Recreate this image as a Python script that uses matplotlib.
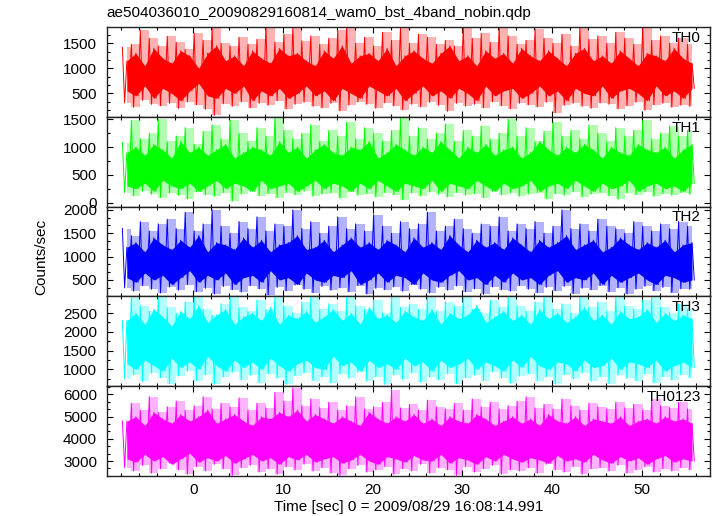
import matplotlib
matplotlib.use('Agg')
import matplotlib.pyplot as plt
import numpy as np
from matplotlib.ticker import MultipleLocator

plt.rcParams['font.family'] = 'Liberation Sans'
plt.rcParams['font.size'] = 11

title = 'ae504036010_20090829160814_wam0_bst_4band_nobin.qdp'
names = ['TH0', 'TH1', 'TH2', 'TH3', 'TH0123']
colors = ['#ff0000', '#00ff00', '#0000ff', '#00ffff', '#ff00ff']

# time grid of the light curve (one set of samples per 1 s bin)
t_start = -7.9
t_bin = 1.0

# per bin: outer spike high / low, inner (dense) high / low
th0_hi = [1420, 1480, 1760, 1600, 1450, 1640, 1520, 1380, 1700, 1560, 1830, 1500, 1450, 1620, 1480, 1580,
          1830, 1520, 1680, 1830, 1550, 1650, 1480, 1600, 1760, 1830, 1500, 1620, 1450, 1720, 1560, 1830,
          1500, 1680, 1620, 1480, 1560, 1450, 1830, 1600, 1700, 1520, 1830, 1650, 1480, 1560, 1780, 1600,
          1500, 1680, 1450, 1830, 1580, 1650, 1500, 1720, 1600, 1480, 1830, 1560, 1650, 1500, 1600, 1480]
th0_lo = [310, 220, 360, 280, 250, 300, 200, 330, 270, 180, 60, 290, 240, 330, 210, 300,
          260, 350, 190, 280, 320, 240, 210, 300, 150, 260, 330, 280, 200, 310, 250, 170,
          280, 230, 320, 260, 140, 300, 240, 280, 210, 330, 250, 190, 300, 270, 230, 320,
          110, 260, 300, 240, 200, 310, 280, 190, 250, 320, 160, 270, 300, 220, 260, 240]
th0_mh = [1150, 1300, 1050, 1400, 1200, 1100, 1350, 1250, 1000, 1300, 1450, 1150, 1250, 1050, 1350, 1200,
          1100, 1400, 1250, 1300, 1150, 1050, 1350, 1200, 1450, 1100, 1250, 1300, 1150, 1400, 1050, 1250,
          1350, 1200, 1100, 1300, 1450, 1150, 1250, 1050, 1350, 1200, 1300, 1100, 1400, 1250, 1150, 1350,
          1200, 1050, 1300, 1400, 1150, 1250, 1100, 1350, 1200, 1050, 1300, 1250, 1150, 1400, 1200, 1100]
th0_ml = [550, 450, 650, 400, 600, 500, 350, 550, 700, 450, 400, 600, 500, 650, 350, 550,
          450, 600, 400, 500, 650, 450, 550, 350, 600, 500, 400, 650, 550, 450, 600, 350,
          500, 650, 450, 550, 400, 600, 500, 350, 650, 450, 550, 600, 400, 500, 650, 450,
          550, 350, 600, 500, 450, 650, 400, 550, 600, 500, 350, 650, 450, 550, 400, 600]

th1_hi = [1080, 1480, 1150, 1250, 1500, 1100, 1200, 1350, 1050, 1280, 1400, 1150, 1480, 1250, 1100, 1350,
          1200, 1550, 1300, 1150, 1250, 1400, 1100, 1300, 1200, 1450, 1150, 1350, 1250, 1100, 1300, 1550,
          1200, 1350, 1150, 1250, 1420, 1100, 1300, 1200, 1380, 1150, 1250, 1500, 1200, 1350, 1100, 1280,
          1450, 1200, 1300, 1150, 1400, 1250, 1100, 1350, 1200, 1300, 1480, 1150, 1250, 1380, 1200, 1300]
th1_lo = [180, 120, 200, 150, 90, 170, 130, 60, 190, 140, 110, 180, 20, 150, 200, 120,
          160, 90, 180, 140, 200, 110, 150, 170, 80, 190, 130, 160, 100, 180, 140, 50,
          170, 120, 190, 150, 100, 180, 130, 160, 90, 200, 140, 170, 110, 150, 180, 70,
          160, 130, 190, 100, 150, 180, 120, 60, 170, 140, 190, 110, 160, 130, 180, 150]
th1_mh = [900, 1000, 850, 1050, 950, 800, 1100, 900, 1000, 850, 950, 1050, 800, 900, 1000, 950,
          850, 1100, 900, 1000, 800, 950, 1050, 900, 850, 1000, 950, 1100, 800, 900, 1050, 950,
          850, 1000, 900, 1100, 950, 800, 1000, 900, 1050, 850, 950, 1000, 800, 900, 1100, 950,
          850, 1000, 900, 1050, 950, 800, 1000, 900, 850, 1050, 950, 900, 1000, 800, 950, 1050]
th1_ml = [300, 250, 350, 200, 400, 300, 250, 350, 200, 300, 400, 250, 350, 300, 200, 400,
          250, 300, 350, 200, 300, 400, 250, 350, 300, 200, 350, 250, 400, 300, 200, 350,
          300, 250, 400, 200, 350, 300, 250, 400, 300, 200, 350, 250, 300, 400, 200, 300,
          350, 250, 400, 300, 200, 350, 250, 300, 400, 200, 300, 350, 250, 300, 200, 350]

th2_hi = [1600, 1450, 1750, 1550, 1700, 1800, 1600, 1950, 1550, 1700, 2000, 1650, 1500, 1750, 1600, 1850,
          1550, 1700, 1650, 2000, 1600, 1750, 1500, 1650, 1850, 1600, 1700, 1550, 1900, 1650, 1500, 1750,
          1600, 1700, 1950, 1550, 1650, 1800, 1600, 1500, 1700, 1650, 1850, 1550, 1700, 1600, 1750, 1500,
          1650, 2000, 1600, 1700, 1550, 1800, 1650, 1600, 1500, 1750, 1650, 1550, 1700, 1600, 1750, 1650]
th2_lo = [330, 260, 380, 300, 220, 350, 280, 400, 250, 320, 200, 360, 290, 240, 380, 310,
          180, 340, 270, 390, 300, 230, 360, 280, 330, 250, 380, 200, 320, 290, 350, 260,
          400, 300, 220, 340, 280, 370, 250, 310, 190, 350, 290, 260, 380, 300, 230, 340,
          270, 360, 210, 320, 290, 380, 250, 330, 200, 300, 360, 270, 340, 230, 310, 300]
th2_mh = [1200, 1300, 1100, 1400, 1250, 1150, 1350, 1200, 1450, 1100, 1300, 1250, 1150, 1400, 1200, 1350,
          1100, 1250, 1300, 1450, 1150, 1200, 1350, 1100, 1250, 1400, 1200, 1300, 1150, 1350, 1250, 1100,
          1400, 1200, 1300, 1150, 1450, 1250, 1100, 1350, 1200, 1300, 1150, 1400, 1250, 1100, 1350, 1200,
          1300, 1450, 1150, 1250, 1350, 1100, 1200, 1400, 1250, 1150, 1300, 1200, 1350, 1100, 1250, 1300]
th2_ml = [550, 450, 650, 500, 600, 400, 550, 700, 450, 600, 500, 650, 400, 550, 600, 450,
          700, 500, 550, 400, 650, 500, 450, 600, 550, 700, 400, 500, 650, 450, 600, 550,
          400, 650, 500, 450, 600, 700, 500, 550, 400, 600, 450, 650, 500, 550, 400, 600,
          700, 450, 550, 500, 650, 400, 600, 450, 550, 650, 500, 400, 600, 550, 450, 500]

th3_hi = [2300, 2950, 2700, 2550, 2950, 2650, 2500, 2800, 2950, 2600, 2450, 2750, 2950, 2650, 2550, 2850,
          2600, 2950, 2700, 2500, 2800, 2950, 2600, 2750, 2550, 2950, 2700, 2600, 2850, 2500, 2950, 2650,
          2750, 2600, 2950, 2550, 2800, 2700, 2950, 2600, 2500, 2850, 2650, 2950, 2700, 2550, 2800, 2950,
          2600, 2750, 2500, 2950, 2650, 2800, 2550, 2950, 2700, 2600, 2850, 2950, 2650, 2500, 2750, 2600]
th3_lo = [750, 850, 680, 900, 780, 620, 820, 950, 700, 860, 600, 800, 920, 720, 850, 650,
          880, 760, 600, 830, 900, 700, 790, 640, 870, 760, 920, 680, 810, 600, 850, 740,
          900, 660, 800, 720, 880, 620, 780, 850, 700, 930, 760, 640, 820, 880, 700, 790,
          610, 860, 740, 900, 680, 800, 620, 850, 760, 700, 880, 640, 800, 720, 860, 780]
th3_mh = [2300, 2500, 2200, 2600, 2400, 2150, 2550, 2350, 2700, 2250, 2450, 2600, 2200, 2400, 2500, 2300,
          2650, 2200, 2450, 2350, 2550, 2250, 2400, 2600, 2300, 2500, 2200, 2650, 2350, 2450, 2250, 2550,
          2400, 2300, 2600, 2200, 2500, 2350, 2450, 2700, 2250, 2400, 2550, 2300, 2450, 2200, 2600, 2350,
          2500, 2250, 2400, 2650, 2300, 2450, 2200, 2550, 2350, 2400, 2600, 2250, 2500, 2300, 2450, 2350]
th3_ml = [1150, 1000, 1250, 1100, 950, 1300, 1050, 1200, 1000, 1350, 1100, 950, 1250, 1050, 1200, 1000,
          1300, 1100, 950, 1150, 1250, 1050, 1000, 1350, 1100, 1200, 950, 1250, 1050, 1150, 1000, 1300,
          1100, 1200, 950, 1250, 1050, 1150, 1300, 1000, 1200, 1100, 950, 1250, 1050, 1350, 1100, 1000,
          1200, 1150, 950, 1250, 1050, 1100, 1300, 1000, 1200, 1150, 1050, 1250, 950, 1100, 1200, 1050]

th0123_hi = [4800, 5600, 5300, 5900, 5200, 5450, 5700, 5300, 5500, 5900, 5350, 5600, 5450, 5850, 5300, 5600,
             5400, 6100, 5700, 6300, 5500, 5800, 5400, 5650, 5300, 5500, 5900, 5350, 5450, 5650, 6200, 5400,
             5550, 5300, 5750, 5450, 5350, 5600, 5300, 5800, 5450, 5650, 5350, 5500, 5700, 5900, 5400, 5550,
             5350, 5800, 5500, 5300, 5600, 5450, 5350, 5650, 5400, 5550, 5300, 5800, 5500, 5400, 5650, 5350]
th0123_lo = [2700, 2550, 2800, 2450, 2650, 2900, 2600, 2400, 2750, 2550, 2850, 2650, 2350, 2700, 2800, 2500,
             2650, 2400, 2750, 2600, 2850, 2550, 2700, 2450, 2350, 2650, 2800, 2500, 2600, 2750, 2400, 2650,
             2550, 2850, 2450, 2700, 2600, 2350, 2750, 2500, 2650, 2800, 2400, 2600, 2550, 2700, 2450, 2850,
             2600, 2500, 2750, 2400, 2650, 2700, 2550, 2800, 2450, 2600, 2750, 2500, 2650, 2550, 2700, 2600]
th0123_mh = [4800, 5000, 4600, 5200, 4900, 4700, 5100, 4800, 5000, 5300, 4700, 4900, 5100, 4800, 4600, 5000,
             4900, 5200, 5000, 5300, 4800, 5100, 4900, 4700, 5000, 4800, 4600, 5200, 4900, 4700, 5000, 4800,
             5100, 4700, 4900, 4600, 5000, 4800, 4700, 5100, 4900, 4600, 4800, 5000, 4700, 4900, 4600, 5100,
             4800, 4700, 5000, 4600, 4900, 4800, 4700, 5000, 4600, 4800, 4900, 4700, 5000, 4800, 4900, 4700]
th0123_ml = [3100, 2950, 3300, 3000, 3200, 2850, 3100, 3350, 2950, 3150, 3000, 3250, 2900, 3100, 3300, 3000,
             3150, 2850, 3200, 3050, 3300, 2950, 3100, 3200, 2900, 3050, 3300, 3000, 2850, 3200, 3100, 2950,
             3250, 3050, 3000, 3300, 2900, 3150, 3050, 2850, 3200, 3000, 3300, 3100, 2950, 3150, 3050, 2900,
             3250, 3000, 3100, 2950, 3300, 3050, 2900, 3200, 3000, 3150, 2850, 3100, 3250, 2950, 3100, 3000]

his = [th0_hi, th1_hi, th2_hi, th3_hi, th0123_hi]
los = [th0_lo, th1_lo, th2_lo, th3_lo, th0123_lo]
mhs = [th0_mh, th1_mh, th2_mh, th3_mh, th0123_mh]
mls = [th0_ml, th1_ml, th2_ml, th3_ml, th0123_ml]

ylims = [(32, 1826), (-73, 1545), (148, 2070), (553, 2944), (2324, 6374)]
majors = [500, 500, 500, 500, 1000]
minors = [500 / 3, 250, 500 / 3, 250, 1000 / 3]

fig = plt.figure(figsize=(7.17, 5.16), dpi=100)
gs = fig.add_gridspec(5, 1, left=0.1488, right=0.9902, top=0.9477, bottom=0.0775, hspace=0)
axes = [fig.add_subplot(gs[i]) for i in range(5)]

for i, ax in enumerate(axes):
    hi = np.array(his[i], dtype=float)
    lo = np.array(los[i], dtype=float)
    mh = np.array(mhs[i], dtype=float)
    ml = np.array(mls[i], dtype=float)
    n = len(hi)
    t = t_start + t_bin * np.arange(n)

    # per bin: hi -> lo -> inner hi -> inner lo
    tz = np.empty(4 * n)
    yz = np.empty(4 * n)
    for k, arr in enumerate([hi, lo, mh, ml]):
        tz[k::4] = t + k * t_bin / 4
        yz[k::4] = arr

    # sparse outer part (light tint) and dense core
    ax.fill_between(t + t_bin / 2, lo, hi, step='mid', color=colors[i], alpha=0.3, lw=0)
    ax.fill_between(t + t_bin / 2, ml, mh, color=colors[i], lw=0)
    ax.plot(tz, yz, color=colors[i], lw=0.7)

    ax.set_xlim(-9.65, 57.6)
    ax.set_ylim(*ylims[i])
    ax.xaxis.set_major_locator(MultipleLocator(10))
    ax.xaxis.set_minor_locator(MultipleLocator(2))
    ax.yaxis.set_major_locator(MultipleLocator(majors[i]))
    ax.yaxis.set_minor_locator(MultipleLocator(minors[i]))
    ax.tick_params(which='both', direction='in', top=True, right=True, width=0.8, colors='black')
    ax.tick_params(which='major', length=4.5, pad=7, labelsize=11)
    ax.tick_params(which='minor', length=2.5)
    for s in ax.spines.values():
        s.set_linewidth(1.0)
        s.set_color('#222222')
    ax.text(0.985, 0.88, names[i], transform=ax.transAxes, ha='right', va='center', fontsize=11)
    if i < 4:
        ax.tick_params(labelbottom=False)
    else:
        ax.tick_params(axis='x', pad=5)

axes[0].set_title(title, loc='left', fontsize=11, pad=7)
axes[-1].set_xlabel('Time [sec] 0 = 2009/08/29 16:08:14.991', fontsize=11, labelpad=2)
fig.text(0.058, 0.502, 'Counts/sec', rotation=90, ha='center', va='center', fontsize=11)

fig.savefig('out.png', dpi=100)
